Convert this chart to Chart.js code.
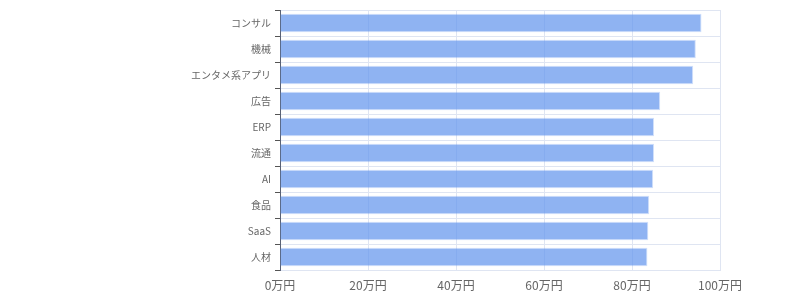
<!DOCTYPE html>
<html>
<head>
<meta charset="utf-8">
<script src="https://cdn.jsdelivr.net/npm/chart.js@4"></script>
<style>
  html, body { margin: 0; padding: 0; background: #fff; }
  #wrap { width: 800px; height: 300px; position: relative; }
</style>
</head>
<body>
<div id="wrap"><canvas id="c"></canvas></div>
<script>
const categories = ['コンサル', '機械', 'エンタメ系アプリ', '広告', 'ERP', '流通', 'AI', '食品', 'SaaS', '人材'];
const salaries = [95.8, 94.5, 93.9, 86.4, 85.0, 85.0, 84.8, 83.9, 83.7, 83.5];
const xTickValues = [0, 20, 40, 60, 80, 100];
const unitLabel = '万円';

Chart.defaults.font.family = '"Noto Sans CJK JP", "Noto Sans", sans-serif';
Chart.defaults.color = '#666';

new Chart(document.getElementById('c'), {
  type: 'bar',
  data: {
    labels: categories,
    datasets: [{
      data: salaries,
      backgroundColor: 'rgba(100,149,237,0.72)',
      borderColor: 'rgba(100,149,237,0.3)',
      borderWidth: 1
    }]
  },
  options: {
    indexAxis: 'y',
    responsive: true,
    maintainAspectRatio: false,
    animation: false,
    layout: { padding: { left: 180, right: 80, top: 8, bottom: 0 } },
    plugins: { legend: { display: false }, tooltip: { enabled: false } },
    scales: {
      x: {
        min: 0,
        max: 100,
        afterBuildTicks: (s) => { s.ticks = xTickValues.map(v => ({ value: v })); },
        afterFit: (s) => { s.height = 30; },
        grid: { color: '#dfe5f2', drawTicks: false },
        border: { color: '#dfe5f2' },
        ticks: {
          padding: 8,
          font: { size: 12 },
          color: '#666',
          callback: (v) => v + unitLabel
        }
      },
      y: {
        afterFit: (s) => { s.width = 100; },
        grid: { color: '#dfe5f2', tickColor: '#555', tickLength: 5 },
        border: { color: '#5a6275' },
        ticks: { padding: 4, font: { size: 10 }, color: '#666' }
      }
    }
  }
});
</script>
</body>
</html>
